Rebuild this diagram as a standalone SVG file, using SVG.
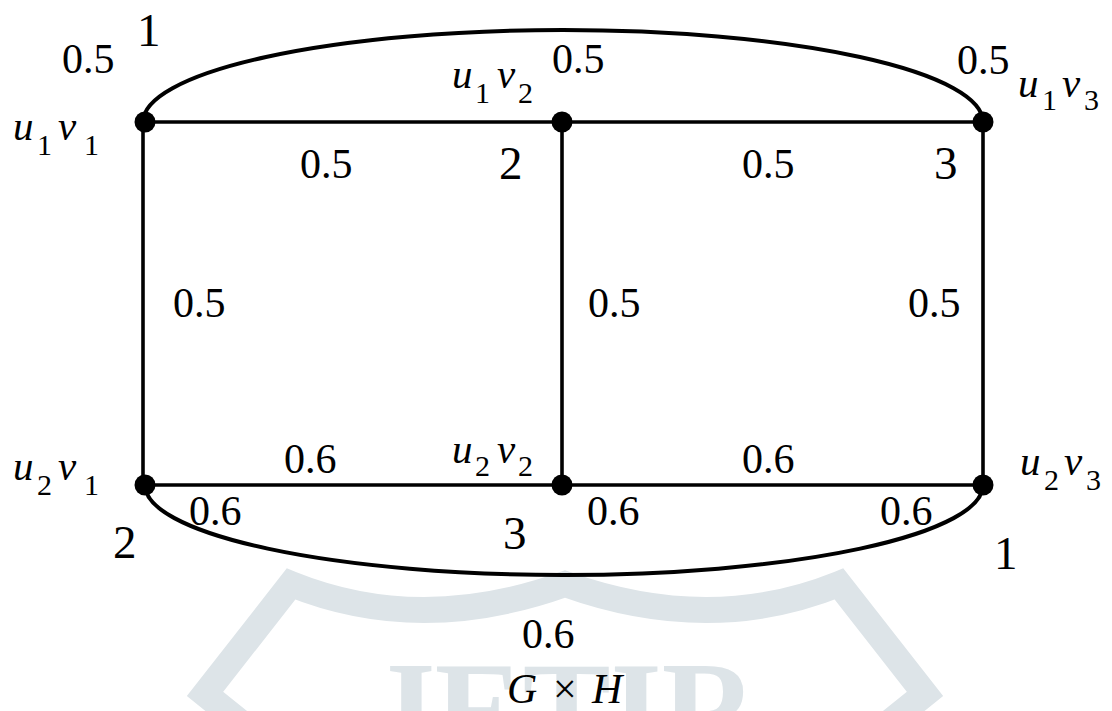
<svg xmlns="http://www.w3.org/2000/svg" width="1112" height="711" viewBox="0 0 1112 711" font-family="Liberation Serif, Tinos, DejaVu Serif, Times New Roman, Times, serif">
<style>
.edge{fill:none;stroke:#000;stroke-width:3.6;stroke-linecap:butt}
.curve{fill:none;stroke:#000;stroke-width:4}
.dot{fill:#000}
.w{font-size:42px;fill:#000}
.n{font-size:47px;fill:#000}
.it{font-style:italic;font-size:41px;fill:#000}
.sub{font-size:30px;fill:#000}
.wm{fill:none;stroke:#dde4e8;stroke-width:26;stroke-linejoin:miter}
.wmt{font-weight:bold;font-size:140px;fill:#dde4e8}
</style>
<rect width="1112" height="711" fill="#fff"/>
<g id="watermark">
<path class="wm" d="M 240,722 L 205,694 L 291,584 Q 420,636 565,584 Q 710,636 839,584 L 925,694 L 890,722"/>
<text class="wmt" x="369" y="758" textLength="388" lengthAdjust="spacingAndGlyphs">JETIR</text>
</g>
<g id="connectors">
<path class="curve" d="M 143,122 A 420,92 0 0 1 983,122"/>
<path class="curve" d="M 145,485 A 419,90 0 0 0 983,485"/>
<line class="edge" x1="145" y1="122" x2="983" y2="122"/>
<line class="edge" x1="145" y1="485" x2="983" y2="485"/>
<line class="edge" x1="143" y1="122" x2="143" y2="485"/>
<line class="edge" x1="562" y1="122" x2="562" y2="485"/>
<line class="edge" x1="983" y1="122" x2="983" y2="485"/>
<text class="w" x="62" y="73">0.5</text>
<text class="w" x="552" y="73">0.5</text>
<text class="w" x="957" y="74">0.5</text>
<text class="w" x="300" y="178">0.5</text>
<text class="w" x="742" y="178">0.5</text>
<text class="w" x="173" y="317">0.5</text>
<text class="w" x="588" y="317">0.5</text>
<text class="w" x="908" y="317">0.5</text>
<text class="w" x="284" y="473">0.6</text>
<text class="w" x="742" y="473">0.6</text>
<text class="w" x="189" y="525">0.6</text>
<text class="w" x="587" y="525">0.6</text>
<text class="w" x="880" y="525">0.6</text>
<text class="w" x="522" y="648">0.6</text>
</g>
<g id="u1v1">
<circle class="dot" cx="145" cy="122" r="10.5"/>
<text class="it" x="13" y="140">u</text><text class="sub" x="37" y="155">1</text>
<text class="it" x="58" y="140">v</text><text class="sub" x="84" y="155">1</text>
<text class="n" x="137" y="46">1</text>
</g>
<g id="u1v2">
<circle class="dot" cx="562" cy="122" r="10.5"/>
<text class="it" x="452" y="88">u</text><text class="sub" x="475" y="103">1</text>
<text class="it" x="497" y="88">v</text><text class="sub" x="518" y="103">2</text>
<text class="n" x="499" y="179">2</text>
</g>
<g id="u1v3">
<circle class="dot" cx="983" cy="122" r="10.5"/>
<text class="it" x="1018" y="97">u</text><text class="sub" x="1042" y="110">1</text>
<text class="it" x="1062" y="97">v</text><text class="sub" x="1084" y="110">3</text>
<text class="n" x="934" y="179">3</text>
</g>
<g id="u2v1">
<circle class="dot" cx="145" cy="485" r="10.5"/>
<text class="it" x="13" y="480">u</text><text class="sub" x="37" y="495">2</text>
<text class="it" x="58" y="480">v</text><text class="sub" x="84" y="495">1</text>
<text class="n" x="113" y="558">2</text>
</g>
<g id="u2v2">
<circle class="dot" cx="562" cy="485" r="10.5"/>
<text class="it" x="452" y="463">u</text><text class="sub" x="475" y="476">2</text>
<text class="it" x="497" y="463">v</text><text class="sub" x="518" y="476">2</text>
<text class="n" x="503" y="549">3</text>
</g>
<g id="u2v3">
<circle class="dot" cx="983" cy="485" r="10.5"/>
<text class="it" x="1020" y="475">u</text><text class="sub" x="1044" y="490">2</text>
<text class="it" x="1064" y="475">v</text><text class="sub" x="1086" y="490">3</text>
<text class="n" x="994" y="569">1</text>
</g>
<g id="caption">
<text class="it" x="507" y="703" style="font-size:42px">G</text>
<text class="w" x="553" y="703">×</text>
<text class="it" x="592" y="703" style="font-size:42px">H</text>
</g>
</svg>
